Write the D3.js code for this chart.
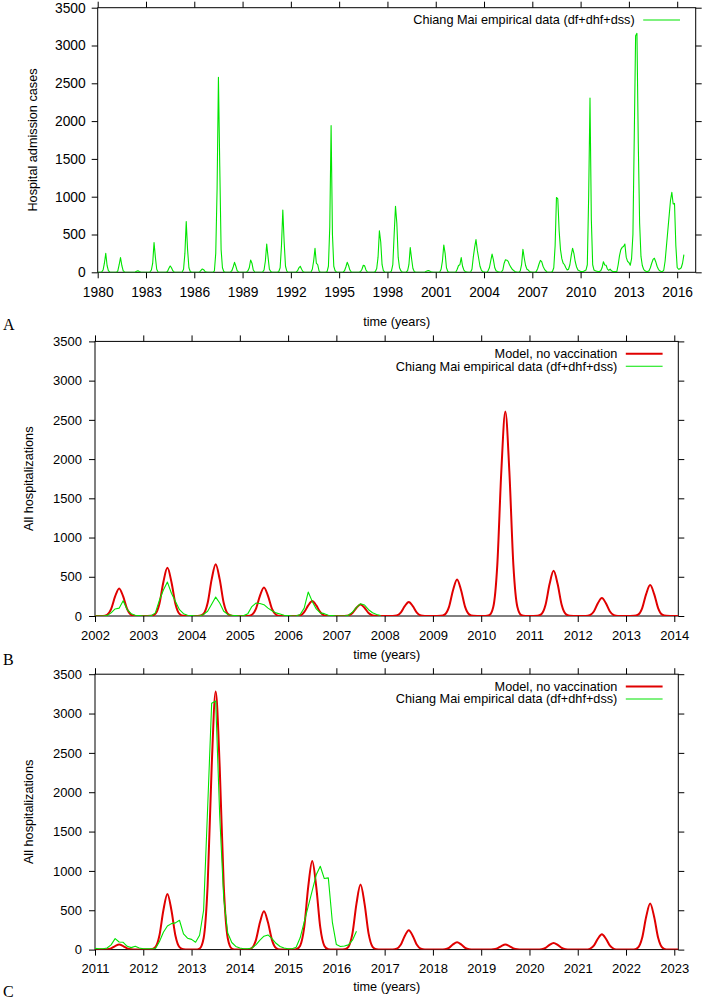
<!DOCTYPE html>
<html><head><meta charset="utf-8">
<script src="https://cdn.jsdelivr.net/npm/d3@7"></script>
<style>
body{margin:0;background:#fff}
svg{display:block}
text{font-family:"Liberation Sans",Arial,Helvetica,sans-serif;fill:#000}
</style>
</head><body>
<svg id="chart" width="703" height="999"></svg>
<script>
// ---------- DATA ----------
// Chiang Mai empirical monthly hospital admissions (df+dhf+dss), Jan 1980 onward
const empiricalStart = 1980;
const empiricalCases = [
  0,0,0,5,30,120,250,90,20,5,0,0,          // 1980
  0,0,0,20,100,194,90,20,5,0,0,0,          // 1981
  0,0,0,0,5,15,22,10,3,0,0,0,              // 1982
  0,0,0,5,30,120,395,200,40,5,0,0,         // 1983
  0,0,0,0,10,50,84,60,20,5,0,0,            // 1984
  0,0,0,5,40,250,670,300,60,10,0,0,        // 1985
  0,0,0,0,5,25,44,35,10,2,0,0,             // 1986
  0,0,0,20,250,1100,2580,1400,300,60,10,0, // 1987
  0,0,0,5,20,70,132,80,20,5,0,0,           // 1988
  0,0,0,5,20,60,163,120,30,5,0,0,          // 1989
  0,0,0,5,30,150,375,200,40,10,0,0,        // 1990
  0,0,0,10,60,350,825,400,80,15,0,0,       // 1991
  0,0,0,0,5,20,60,80,40,10,0,0,            // 1992
  0,0,0,5,40,150,318,120,100,20,0,0,       // 1993
  0,0,0,10,80,600,1940,500,80,20,5,0,      // 1994
  0,0,0,5,20,70,132,90,30,5,0,0,           // 1995
  0,0,0,0,10,40,93,85,30,5,0,0,            // 1996
  0,0,0,10,50,200,550,400,100,20,5,0,      // 1997
  0,0,0,20,100,500,873,650,200,60,20,5,    // 1998
  0,0,5,20,100,326,180,50,10,0,0,0,        // 1999
  0,0,0,0,5,15,22,22,10,2,0,0,             // 2000
  0,0,0,5,40,150,362,250,60,10,0,0,        // 2001
  0,0,0,5,40,90,100,195,80,30,10,5,        // 2002
  0,0,5,40,200,330,432,290,186,80,30,10,   // 2003
  5,0,0,20,60,150,241,165,60,20,10,5,      // 2004
  0,5,30,120,165,160,144,100,68,40,25,10,  // 2005
  5,0,0,20,100,305,186,90,40,30,10,5,      // 2006
  0,0,0,10,50,110,157,140,80,42,20,5,      // 2007
  0,0,0,10,60,350,990,970,550,300,180,120, // 2008
  100,60,30,40,100,220,318,250,140,70,30,20, // 2009
  10,10,10,20,30,100,1000,2304,700,100,30,20, // 2010
  15,10,10,20,60,140,97,93,42,25,42,20,    // 2011
  10,10,10,10,100,220,300,330,340,373,200,145, // 2012
  130,93,182,500,1800,3130,3160,1700,650,210,90,40, // 2013
  20,10,10,20,60,120,170,186,140,80,40,20, // 2014
  10,10,30,150,350,550,750,950,1059,903,911,350, // 2015
  64,40,45,60,120,233                      // 2016
];

// Model, no vaccination (panel B), monthly from Jan 2002
const modelBStart = 2002;
const modelBCases = [
  0,0,1,15,88,249,352,249,88,15,1,0,        // 2002
  0,0,2,27,153,434,614,434,153,27,2,0,      // 2003
  0,0,3,29,165,467,661,467,165,29,3,0,      // 2004
  0,0,1,16,91,257,364,257,91,16,1,0,        // 2005
  0,0,1,8,48,135,191,135,48,8,1,0,          // 2006
  0,0,1,7,37,105,148,105,37,7,1,0,          // 2007
  0,0,1,8,44,126,178,126,44,8,1,0,          // 2008
  0,0,2,21,116,329,466,329,116,21,2,0,      // 2009
  0,0,10,115,649,1842,2606,1842,649,115,10,0, // 2010
  0,0,2,25,143,407,576,407,143,25,2,0,      // 2011
  0,0,1,10,57,162,229,162,57,10,1,0,        // 2012
  0,0,2,17,98,279,394,279,98,17,2,0,        // 2013
  0,0                                        // 2014
];

// Model, no vaccination (panel C), monthly from Jan 2011
const modelCStart = 2011;
const modelCCases = [
  0,0,0,3,16,45,64,45,16,3,0,0,             // 2011
  0,0,3,31,176,500,708,500,176,31,3,0,      // 2012
  0,0,13,144,817,2319,3280,2319,817,144,13,0, // 2013
  0,0,2,21,121,344,487,344,121,21,2,0,      // 2014
  0,0,4,50,281,797,1127,797,281,50,4,0,     // 2015
  0,0,3,36,206,584,826,584,206,36,3,0,      // 2016
  0,0,1,11,61,174,246,174,61,11,1,0,        // 2017
  0,0,0,4,23,66,93,66,23,4,0,0,             // 2018
  0,0,0,3,16,45,64,45,16,3,0,0,             // 2019
  0,0,0,4,21,60,85,60,21,4,0,0,             // 2020
  0,0,1,9,49,138,195,138,49,9,1,0,          // 2021
  0,0,2,26,146,414,585,414,146,26,2,0,      // 2022
  0,0                                        // 2023
];

const yTicks = [0,500,1000,1500,2000,2500,3000,3500];
const xTicksA = [1980,1983,1986,1989,1992,1995,1998,2001,2004,2007,2010,2013,2016];
const xTicksB = [2002,2003,2004,2005,2006,2007,2008,2009,2010,2011,2012,2013,2014];
const xTicksC = [2011,2012,2013,2014,2015,2016,2017,2018,2019,2020,2021,2022,2023];

const labelModel = "Model, no vaccination";
const labelData = "Chiang Mai empirical data (df+dhf+dss)";

// ---------- HELPERS ----------
function toSeries(start, arr){ return arr.map((v,i)=>({t:start+i/12, v:v})); }
const empirical = toSeries(empiricalStart, empiricalCases);
const modelB = toSeries(modelBStart, modelBCases);
const modelC = toSeries(modelCStart, modelCCases);

const GREEN = "#00e400", RED = "#e00000";
const FS = 12.7;
const svg = d3.select("#chart");
svg.append("rect").attr("width",703).attr("height",999).attr("fill","#fff");

const panels = [
  {left:97.7,right:695.7,top:7.7,bottom:272.3,xDomain:[1980,2017.15],xTicks:xTicksA,tickFS:13.8,
   ylabel:"Hospital admission cases",ylabelX:37,xlabelY:326,letter:"A",letterY:329.5,yPad:6,
   series:[{data:empirical,color:GREEN,w:1.1,label:labelData,curve:d3.curveLinear}]},
  {left:95,right:678.3,top:341.4,bottom:616,xDomain:[2002,2014.083],xTicks:xTicksB,tickFS:13,
   ylabel:"All hospitalizations",ylabelX:33,xlabelY:658.6,letter:"B",letterY:664.5,yPad:7,
   series:[{data:modelB,color:RED,w:2,label:labelModel,curve:d3.curveMonotoneX},
           {data:empirical.filter(d=>d.t>=2002 && d.t<2008),color:GREEN,w:1.1,label:labelData,curve:d3.curveLinear}]},
  {left:95,right:678.3,top:674.2,bottom:949.6,xDomain:[2011,2023.083],xTicks:xTicksC,tickFS:13,
   ylabel:"All hospitalizations",ylabelX:33,xlabelY:991,letter:"C",letterY:996.5,yPad:7,
   series:[{data:modelC,color:RED,w:2,label:labelModel,curve:d3.curveMonotoneX},
           {data:empirical.filter(d=>d.t>=2011),color:GREEN,w:1.1,label:labelData,curve:d3.curveLinear}]}
];

panels.forEach((p,pi)=>{
  const x = d3.scaleLinear().domain(p.xDomain).range([p.left,p.right]);
  const y = d3.scaleLinear().domain([0,3500]).range([p.bottom,p.top]);
  const g = svg.append("g");

  const clipId = "clip"+pi;
  svg.append("clipPath").attr("id",clipId).append("rect")
    .attr("x",p.left).attr("y",p.top-2).attr("width",p.right-p.left).attr("height",p.bottom-p.top+2);

  const ax = (a)=>a.tickSizeOuter(0).tickSize(6);
  const bottom = g.append("g").attr("transform",`translate(0,${p.bottom})`)
    .call(ax(d3.axisBottom(x)).tickValues(p.xTicks).tickFormat(d3.format("d")).tickPadding(8.5));
  const top = g.append("g").attr("transform",`translate(0,${p.top})`)
    .call(ax(d3.axisTop(x)).tickValues(p.xTicks).tickFormat(""));
  const left = g.append("g").attr("transform",`translate(${p.left},0)`)
    .call(ax(d3.axisLeft(y)).tickValues(yTicks).tickFormat(d3.format("d")).tickPadding(p.yPad));
  const right = g.append("g").attr("transform",`translate(${p.right},0)`)
    .call(ax(d3.axisRight(y)).tickValues(yTicks).tickFormat(""));
  [bottom,top,left,right].forEach(a=>{
    a.select(".domain").remove();
    a.selectAll(".tick line").attr("stroke","#000").attr("stroke-width",1);
    a.selectAll("text").attr("font-size",p.tickFS).attr("font-family","Liberation Sans, Arial, sans-serif").attr("fill","#000");
  });
  g.append("rect").attr("x",p.left).attr("y",p.top).attr("width",p.right-p.left).attr("height",p.bottom-p.top)
    .attr("fill","none").attr("stroke","#000").attr("stroke-width",1);

  p.series.forEach(s=>{
    g.append("path").datum(s.data)
      .attr("clip-path",`url(#${clipId})`)
      .attr("fill","none").attr("stroke",s.color).attr("stroke-width",s.w)
      .attr("stroke-linejoin","round")
      .attr("d",d3.line().x(d=>x(d.t)).y(d=>y(d.v)).curve(s.curve));
  });

  p.series.forEach((s,i)=>{
    const ly = p.top + 12.3 + i*12.5;
    g.append("text").attr("x",p.right-61).attr("y",ly).attr("dy","0.35em")
      .attr("text-anchor","end").attr("font-size",FS).text(s.label);
    g.append("line").attr("x1",p.right-52.5).attr("x2",p.right-15.7).attr("y1",ly).attr("y2",ly)
      .attr("stroke",s.color).attr("stroke-width",s.w);
  });

  g.append("text").attr("x",(p.left+p.right)/2).attr("y",p.xlabelY)
    .attr("text-anchor","middle").attr("font-size",FS).text("time (years)");
  g.append("text").attr("transform",`translate(${p.ylabelX},${(p.top+p.bottom)/2}) rotate(-90)`)
    .attr("text-anchor","middle").attr("font-size",FS).text(p.ylabel);

  g.append("text").attr("x",3).attr("y",p.letterY)
    .style("font-family","'Liberation Serif', 'Times New Roman', serif")
    .attr("font-size",16).text(p.letter);
});
</script>
</body></html>
